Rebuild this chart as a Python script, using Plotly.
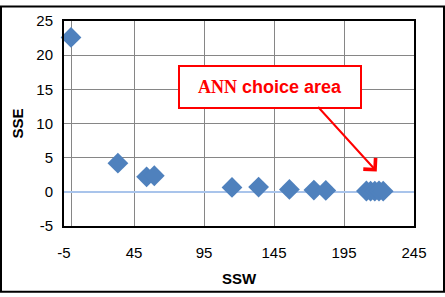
import plotly.graph_objects as go

# Data
ssw = [0, 33.5, 54, 59.5, 115, 134, 156, 173.5, 182, 211, 214, 217, 220, 223]
sse = [22.6, 4.2, 2.2, 2.35, 0.65, 0.7, 0.35, 0.25, 0.2, 0.12, 0.1, 0.1, 0.12, 0.1]

x_ticks = [-5, 45, 95, 145, 195, 245]
y_ticks = [-5, 0, 5, 10, 15, 20, 25]

x_title = "SSW"
y_title = "SSE"
note_text = "ANN choice area"

fig = go.Figure()
fig.add_trace(go.Scatter(
    x=ssw, y=sse, mode="markers",
    marker=dict(symbol="diamond", size=16, color="#4F81BD", line=dict(width=0)),
    showlegend=False, cliponaxis=False,
))

tickfont = dict(family="Liberation Sans, Arial, sans-serif", size=15, color="#000000")
titlefont = dict(family="Liberation Sans, Arial, sans-serif", size=15, color="#000000")

fig.update_xaxes(
    range=[-5, 245], tickmode="array", tickvals=x_ticks, ticktext=[str(v) for v in x_ticks],
    showgrid=True, gridcolor="#868686", gridwidth=1,
    zeroline=True, zerolinecolor="#868686", zerolinewidth=1,
    showline=True, linecolor="#000000", linewidth=2, mirror=True,
    ticks="", tickfont=tickfont, ticklabelstandoff=12,
    title=dict(text="<b>" + x_title + "</b>", font=titlefont, standoff=13),
)
fig.update_yaxes(
    range=[-5, 25], tickmode="array", tickvals=y_ticks, ticktext=[str(v) for v in y_ticks],
    showgrid=True, gridcolor="#868686", gridwidth=1,
    zeroline=True, zerolinecolor="#A9C4EB", zerolinewidth=1.5,
    showline=True, linecolor="#000000", linewidth=2, mirror=True,
    ticks="", tickfont=tickfont, ticklabelstandoff=6,
    title=dict(text="<b>" + y_title + "</b>", font=titlefont, standoff=9),
)

# Callout box
fig.add_annotation(
    x=142, y=15.3, xref="x", yref="y",
    text="<b><span style='font-family:Liberation Serif, Times New Roman, serif'>ANN</span> " + note_text.split(" ", 1)[1] + "</b>",
    font=dict(family="Liberation Sans, Arial, sans-serif", size=18, color="#FF0000"),
    showarrow=False, bordercolor="#FF0000", borderwidth=2, borderpad=1,
    bgcolor="#FFFFFF", width=178, height=38,
)
# Arrow
fig.add_annotation(
    x=218.4, y=2.97, xref="x", yref="y", text="",
    showarrow=True, ax=-60, ay=-66, axref="pixel", ayref="pixel",
    arrowhead=4, arrowsize=1.6, arrowwidth=2, arrowcolor="#FF0000",
)

# Outer chart border
fig.add_shape(type="rect", xref="paper", yref="paper",
              x0=(1 - 64) / 350, x1=(444 - 64) / 350,
              y0=(228 - 296) / 212, y1=(228 - 1) / 212,
              line=dict(color="#000000", width=2), layer="above")

fig.update_layout(
    width=445, height=297,
    margin=dict(l=64, r=31, t=16, b=69),
    paper_bgcolor="#FFFFFF", plot_bgcolor="#FFFFFF",
)

fig.write_html("out.html", config={"displayModeBar": False},
               post_script="document.body.style.margin='0px';document.body.style.overflow='hidden';")
